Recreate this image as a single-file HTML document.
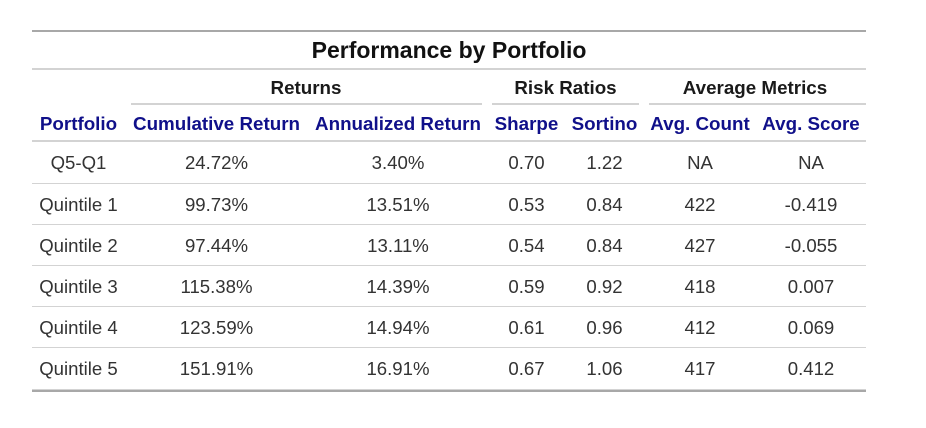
<!DOCTYPE html>
<html>
<head>
<meta charset="utf-8">
<style>
  html, body { margin:0; padding:0; background:#fff; }
  body { width:926px; height:428px; position:relative; overflow:hidden;
         font-family:"Liberation Sans", Arial, sans-serif; }
  .ln { position:absolute; left:32px; width:834px; }
  .r { position:absolute; left:32px; width:834px; display:flex; white-space:nowrap; }
  .r > div { display:flex; align-items:center; justify-content:center; }
  .r > div:nth-child(1){ width:93px; }
  .r > div:nth-child(2){ width:183px; }
  .r > div:nth-child(3){ width:180px; }
  .r > div:nth-child(4){ width:77px; }
  .r > div:nth-child(5){ width:79px; }
  .r > div:nth-child(6){ width:112px; }
  .r > div:nth-child(7){ width:110px; }
  .body { height:41px; font-size:18.6px; color:#333; }
  .lab { top:107px; height:33px; font-size:18.8px; font-weight:bold; color:#10108a; }
  .sp { position:absolute; top:72px; height:32px; display:flex; align-items:center; justify-content:center;
        font-size:18.8px; font-weight:bold; color:#1a1a1a; white-space:nowrap; }
  .spl { position:absolute; top:103px; height:2px; background:#D3D3D3; }
  .title { position:absolute; left:32px; width:834px; top:32px; height:36px; display:flex;
           align-items:center; justify-content:center; font-size:23px; font-weight:bold; color:#111; }
</style>
</head>
<body>
  <div class="ln" style="top:30px;height:2px;background:#A8A8A8;"></div>
  <div class="title">Performance by Portfolio</div>
  <div class="ln" style="top:68px;height:2px;background:#D3D3D3;"></div>

  <div class="sp" style="left:125px;width:362px;">Returns</div>
  <div class="sp" style="left:487px;width:157px;">Risk Ratios</div>
  <div class="sp" style="left:644px;width:222px;">Average Metrics</div>
  <div class="spl" style="left:131px;width:351px;"></div>
  <div class="spl" style="left:492px;width:147px;"></div>
  <div class="spl" style="left:649px;width:217px;"></div>

  <div class="r lab">
    <div>Portfolio</div><div>Cumulative Return</div><div>Annualized Return</div>
    <div>Sharpe</div><div>Sortino</div><div>Avg. Count</div><div>Avg. Score</div>
  </div>
  <div class="ln" style="top:140px;height:2px;background:#D3D3D3;"></div>

  <div class="r body" style="top:142px;">
    <div>Q5-Q1</div><div>24.72%</div><div>3.40%</div><div>0.70</div><div>1.22</div><div>NA</div><div>NA</div>
  </div>
  <div class="ln" style="top:183px;height:1px;background:#D3D3D3;"></div>

  <div class="r body" style="top:184px;">
    <div>Quintile 1</div><div>99.73%</div><div>13.51%</div><div>0.53</div><div>0.84</div><div>422</div><div>-0.419</div>
  </div>
  <div class="ln" style="top:224px;height:1px;background:#D3D3D3;"></div>

  <div class="r body" style="top:225px;">
    <div>Quintile 2</div><div>97.44%</div><div>13.11%</div><div>0.54</div><div>0.84</div><div>427</div><div>-0.055</div>
  </div>
  <div class="ln" style="top:265px;height:1px;background:#D3D3D3;"></div>

  <div class="r body" style="top:266px;">
    <div>Quintile 3</div><div>115.38%</div><div>14.39%</div><div>0.59</div><div>0.92</div><div>418</div><div>0.007</div>
  </div>
  <div class="ln" style="top:306px;height:1px;background:#D3D3D3;"></div>

  <div class="r body" style="top:307px;">
    <div>Quintile 4</div><div>123.59%</div><div>14.94%</div><div>0.61</div><div>0.96</div><div>412</div><div>0.069</div>
  </div>
  <div class="ln" style="top:347px;height:1px;background:#D3D3D3;"></div>

  <div class="r body" style="top:348px;">
    <div>Quintile 5</div><div>151.91%</div><div>16.91%</div><div>0.67</div><div>1.06</div><div>417</div><div>0.412</div>
  </div>
  <div class="ln" style="top:389px;height:1px;background:#D3D3D3;"></div>
  <div class="ln" style="top:390px;height:2px;background:#A8A8A8;"></div>
</body>
</html>
